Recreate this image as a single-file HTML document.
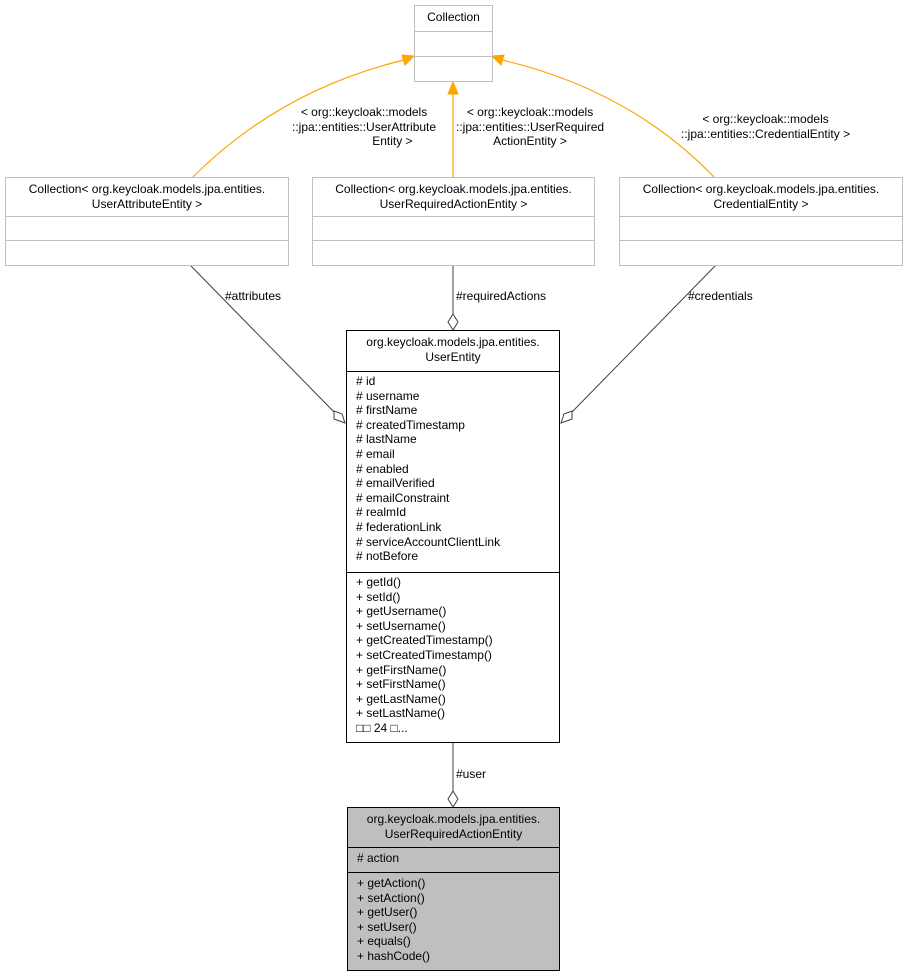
<!DOCTYPE html>
<html><head><style>
body{margin:0;background:#fff;width:907px;height:977px;position:relative;overflow:hidden;font-family:"Liberation Sans",Arial,sans-serif;font-size:12px;color:#000}
.b{position:absolute;box-sizing:border-box;border:1px solid #000;background:#fff}
.g{border-color:#bfbfbf}
.s{border-bottom:1px solid #000;box-sizing:border-box}
.g .s{border-color:#bfbfbf}
.c{text-align:center;line-height:14.5px;padding-top:4px}
.l{padding-left:9px;line-height:14.6px}
svg{position:absolute;left:0;top:0}
.t{position:absolute;font-size:12px;line-height:14.5px;white-space:nowrap}
</style></head><body>
<svg width="907" height="977">
<g fill="none" stroke="#ffa500" stroke-width="1.2">
<path d="M193,177 Q280,90 404,60"/>
<path d="M453,177 L453,93"/>
<path d="M714,177 Q630,90 502,60"/>
</g>
<g fill="#ffa500" stroke="#ffa500">
<polygon points="414,56 402,55 405,65"/>
<polygon points="453,82 448,94 458,94"/>
<polygon points="492,56 504,55 501,65"/>
</g>
<g fill="none" stroke="#404040" stroke-width="1">
<path d="M190,265 L334,412"/>
<path d="M716,265 L572,412"/>
<path d="M453,265 L453,314"/>
<path d="M453,742 L453,791"/>
</g>
<g fill="#fff" stroke="#404040">
<polygon points="345,423 334,419 334,411 342,414"/>
<polygon points="561,423 572,419 572,411 564,414"/>
<polygon points="453,330 448,322 453,314 458,322"/>
<polygon points="453,807 448,799 453,791 458,799"/>
</g>
</svg>
<div class="b g" style="left:414px;top:5px;width:79px;height:77px">
<div class="s c" style="height:26px">Collection</div><div class="s" style="height:25px"></div></div>
<div class="b g" style="left:5px;top:177px;width:284px;height:89px">
<div class="s c" style="height:39px">Collection&lt; org.keycloak.models.jpa.entities.<br>UserAttributeEntity &gt;</div><div class="s" style="height:24px"></div></div>
<div class="b g" style="left:312px;top:177px;width:283px;height:89px">
<div class="s c" style="height:39px">Collection&lt; org.keycloak.models.jpa.entities.<br>UserRequiredActionEntity &gt;</div><div class="s" style="height:24px"></div></div>
<div class="b g" style="left:619px;top:177px;width:284px;height:89px">
<div class="s c" style="height:39px">Collection&lt; org.keycloak.models.jpa.entities.<br>CredentialEntity &gt;</div><div class="s" style="height:24px"></div></div>
<div class="t" style="left:292px;top:105px;text-align:center">&lt; org::keycloak::models<br>::jpa::entities::UserAttribute<br>&nbsp;&nbsp;&nbsp;&nbsp;&nbsp;&nbsp;&nbsp;&nbsp;&nbsp;&nbsp;&nbsp;&nbsp;&nbsp;&nbsp;&nbsp;&nbsp;&nbsp;Entity &gt;</div>
<div class="t" style="left:456px;top:105px;text-align:center">&lt; org::keycloak::models<br>::jpa::entities::UserRequired<br>ActionEntity &gt;</div>
<div class="t" style="left:681px;top:112px;text-align:center">&lt; org::keycloak::models<br>::jpa::entities::CredentialEntity &gt;</div>
<div class="t" style="left:225px;top:289px">#attributes</div>
<div class="t" style="left:456px;top:289px">#requiredActions</div>
<div class="t" style="left:688px;top:289px">#credentials</div>
<div class="t" style="left:456px;top:767px">#user</div>
<div class="b" style="left:346px;top:330px;width:214px;height:413px">
<div class="s c" style="height:41px">org.keycloak.models.jpa.entities.<br>UserEntity</div>
<div class="s l" style="height:201px;padding-top:2px"># id<br># username<br># firstName<br># createdTimestamp<br># lastName<br># email<br># enabled<br># emailVerified<br># emailConstraint<br># realmId<br># federationLink<br># serviceAccountClientLink<br># notBefore</div>
<div class="l" style="padding-top:2px">+ getId()<br>+ setId()<br>+ getUsername()<br>+ setUsername()<br>+ getCreatedTimestamp()<br>+ setCreatedTimestamp()<br>+ getFirstName()<br>+ setFirstName()<br>+ getLastName()<br>+ setLastName()<br>□□ 24 □...</div>
</div>
<div class="b" style="left:347px;top:807px;width:213px;height:164px;background:#bfbfbf">
<div class="s c" style="height:40px">org.keycloak.models.jpa.entities.<br>UserRequiredActionEntity</div>
<div class="s l" style="height:25px;padding-top:3px"># action</div>
<div class="l" style="padding-top:3px">+ getAction()<br>+ setAction()<br>+ getUser()<br>+ setUser()<br>+ equals()<br>+ hashCode()</div>
</div>
</body></html>
